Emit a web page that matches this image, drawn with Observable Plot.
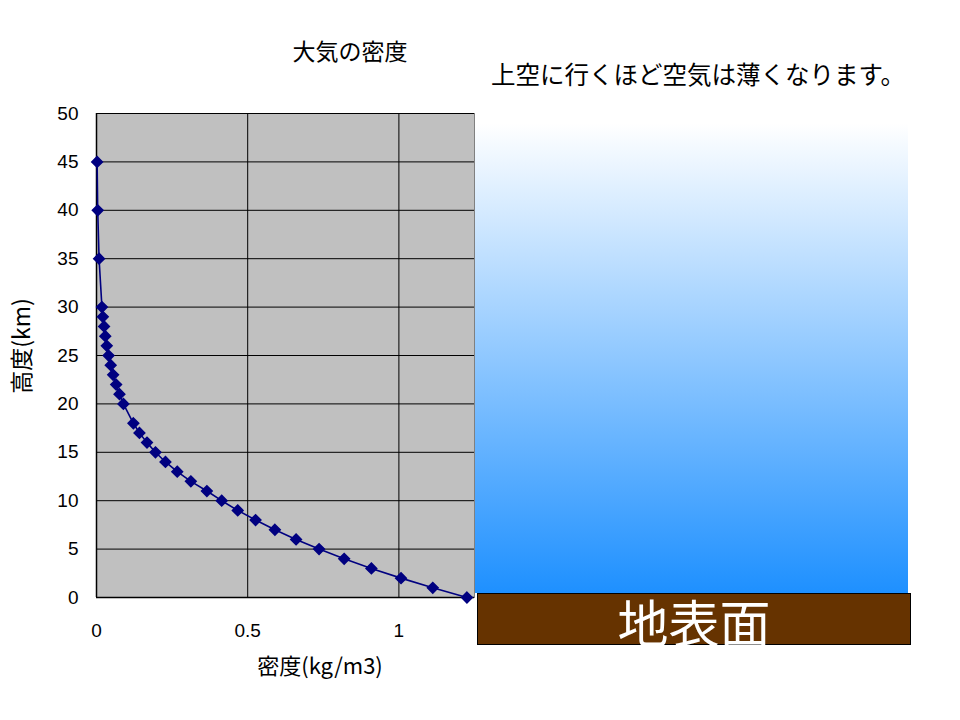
<!DOCTYPE html>
<html>
<head>
<meta charset="utf-8">
<script src="https://cdn.jsdelivr.net/npm/d3@7"></script>
<script src="https://cdn.jsdelivr.net/npm/@observablehq/plot@0.6"></script>
<style>
  html, body { margin: 0; padding: 0; background: #fff; }
  #wrap { position: relative; width: 960px; height: 720px; overflow: hidden;
          font-family: "Liberation Sans", "Noto Sans CJK JP", sans-serif; }
  #wrap svg { position: absolute; left: 0; top: 0; }
  .abs { position: absolute; white-space: nowrap; }
  #title { left: 350px; top: 50px; transform: translate(-50%, -50%); font-size: 23px;
           font-family: "Noto Sans CJK JP", sans-serif; color: #000; }
  #note { left: 698px; top: 73px; transform: translate(-50%, -50%); font-size: 24.5px;
          font-family: "Noto Sans CJK JP", sans-serif; color: #000; }
  #ylab { left: 20px; top: 346px; transform: translate(-50%, -50%) rotate(-90deg); font-size: 23px;
          font-family: "Noto Sans CJK JP", sans-serif; }
  #xlab { left: 320px; top: 664px; transform: translate(-50%, -50%); font-size: 22px;
          font-family: "Noto Sans CJK JP", sans-serif; }
  #sky { left: 475px; top: 123px; width: 433px; height: 470px;
         background: linear-gradient(to bottom, #ffffff 0%, #1e90ff 100%); border-radius: 3px 3px 0 0; }
  #ground { left: 477px; top: 593px; width: 434px; height: 52px; background: #663300;
            border: 1px solid #000; box-sizing: border-box; color: #fff; font-size: 51px;
            font-family: "Noto Sans CJK JP", sans-serif; text-align: center; line-height: 54px; }
</style>
</head>
<body>
<div id="wrap"></div>
<script>
// Altitude (km) and air density (kg/m3)
const altitude = [0, 1, 2, 3, 4, 5, 6, 7, 8, 9, 10, 11, 12, 13, 14, 15, 16, 17, 18,
                  20, 21, 22, 23, 24, 25, 26, 27, 28, 29, 30, 35, 40, 45];
const density  = [1.225, 1.112, 1.007, 0.909, 0.819, 0.736, 0.660, 0.590, 0.526, 0.467,
                  0.414, 0.365, 0.312, 0.267, 0.228, 0.195, 0.167, 0.142, 0.122,
                  0.089, 0.076, 0.065, 0.055, 0.047, 0.040, 0.034, 0.029, 0.025, 0.021, 0.018,
                  0.0085, 0.0040, 0.0020];
const xTicks = [0, 0.5, 1];
const yTicks = [0, 5, 10, 15, 20, 25, 30, 35, 40, 45, 50];

const titleText = "大気の密度";
const noteText = "上空に行くほど空気は薄くなります。";
const groundText = "地表面";
const xLabel = "密度(kg/m3)";
const yLabel = "高度(km)";

const data = altitude.map((a, i) => ({alt: a, rho: density[i]}));

const chart = Plot.plot({
  width: 960,
  height: 720,
  marginLeft: 96,
  marginRight: 486,
  marginTop: 113,
  marginBottom: 123,
  style: {fontSize: "18px", fontFamily: "Liberation Sans, sans-serif", color: "#000", background: "transparent"},
  x: {domain: [0, 1.25], ticks: xTicks, tickFormat: d => String(d), label: null},
  y: {domain: [0, 50], ticks: yTicks, label: null},
  marks: [
    Plot.frame({fill: "#c0c0c0", stroke: "#808080"}),
    Plot.gridX(xTicks.slice(1), {stroke: "#000", strokeOpacity: 1}),
    Plot.gridY(yTicks.slice(1), {stroke: "#000", strokeOpacity: 1}),
    Plot.ruleX([0], {stroke: "#000", strokeWidth: 1.5}),
    Plot.ruleY([0], {stroke: "#000", strokeWidth: 1.5}),
    Plot.axisX({ticks: xTicks, tickSize: 0, tickPadding: 26, tickFormat: d => String(d), fontSize: 19}),
    Plot.axisY({ticks: yTicks, tickSize: 0, tickPadding: 18, fontSize: 19}),
    Plot.line(data, {x: "rho", y: "alt", sort: "alt", stroke: "#000080", strokeWidth: 1.6}),
    Plot.dot(data, {x: "rho", y: "alt", symbol: "diamond2", r: 4.8, fill: "#000080", stroke: "#000080"})
  ]
});

const wrap = document.getElementById("wrap");
wrap.appendChild(chart);

function addDiv(id, text) {
  const d = document.createElement("div");
  d.id = id; d.className = "abs"; d.textContent = text;
  wrap.appendChild(d);
}
addDiv("sky", "");
addDiv("ground", groundText);
addDiv("title", titleText);
addDiv("note", noteText);
addDiv("ylab", yLabel);
addDiv("xlab", xLabel);
</script>
</body>
</html>
